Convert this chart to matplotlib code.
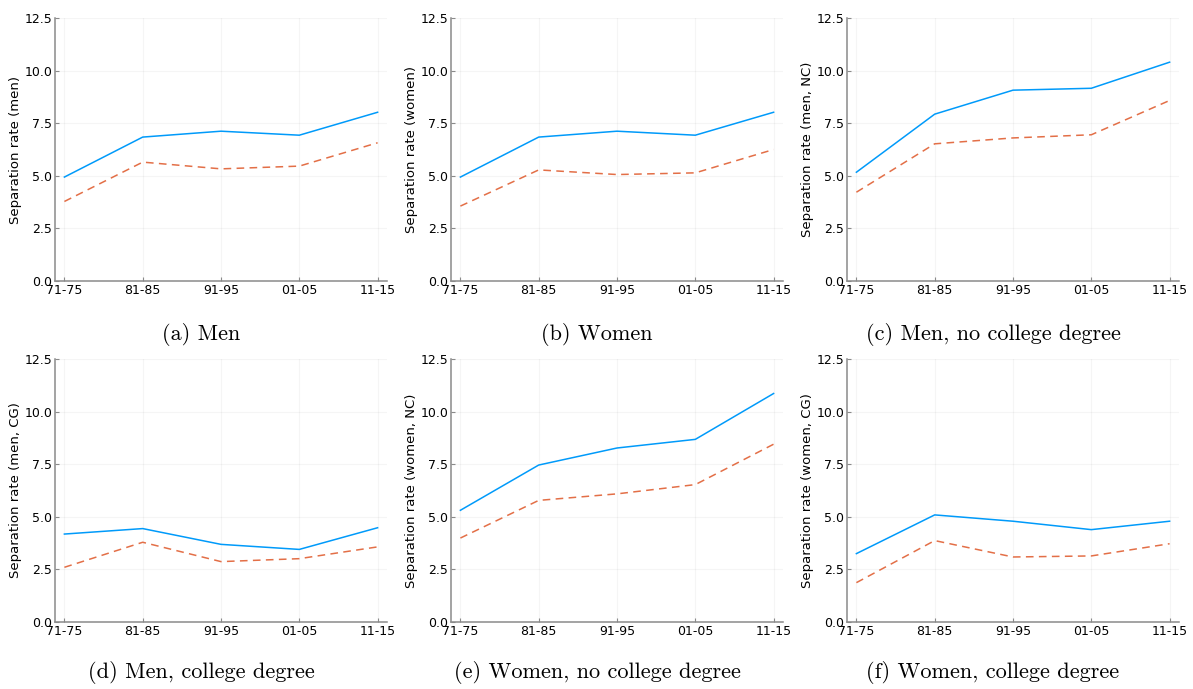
import numpy as np
import matplotlib
matplotlib.use("Agg")
import matplotlib.pyplot as plt

# periods on the x axis
periods = ["71-75", "81-85", "91-95", "01-05", "11-15"]

# separation rates per group: solid (blue) and dashed (red) series
men_solid = [4.94, 6.84, 7.12, 6.93, 8.02]
men_dashed = [3.78, 5.65, 5.33, 5.46, 6.57]
women_solid = [4.94, 6.84, 7.12, 6.93, 8.02]
women_dashed = [3.56, 5.28, 5.06, 5.14, 6.25]
men_nc_solid = [5.17, 7.93, 9.07, 9.16, 10.40]
men_nc_dashed = [4.22, 6.52, 6.80, 6.95, 8.58]
men_cg_solid = [4.18, 4.44, 3.69, 3.45, 4.48]
men_cg_dashed = [2.60, 3.79, 2.87, 3.01, 3.57]
women_nc_solid = [5.31, 7.46, 8.27, 8.68, 10.86]
women_nc_dashed = [3.99, 5.78, 6.09, 6.53, 8.45]
women_cg_solid = [3.25, 5.09, 4.79, 4.39, 4.79]
women_cg_dashed = [1.87, 3.87, 3.09, 3.14, 3.72]

ylabels = ["Separation rate (men)", "Separation rate (women)", "Separation rate (men, NC)",
           "Separation rate (men, CG)", "Separation rate (women, NC)", "Separation rate (women, CG)"]
captions = ["(a) Men", "(b) Women", "(c) Men, no college degree",
            "(d) Men, college degree", "(e) Women, no college degree", "(f) Women, college degree"]

panels = [(men_solid, men_dashed), (women_solid, women_dashed), (men_nc_solid, men_nc_dashed),
          (men_cg_solid, men_cg_dashed), (women_nc_solid, women_nc_dashed),
          (women_cg_solid, women_cg_dashed)]

BLUE = "#009AFA"
RED = "#E36F47"

fig = plt.figure(figsize=(11.93, 6.89), dpi=100)

W, H = 1193, 689
lefts = [55, 451, 847]
tops = [18, 359]
aw, ah = 332, 263
cap_y = [334, 673]

x = np.arange(len(periods))
for i, (solid, dashed) in enumerate(panels):
    r, c = divmod(i, 3)
    ax = fig.add_axes([lefts[c] / W, 1 - (tops[r] + ah) / H, aw / W, ah / H])
    ax.plot(x, solid, color=BLUE, lw=1.1)
    ax.plot(x, dashed, color=RED, lw=1.1, ls=(0, (5, 3.5)))
    ax.set_xlim(-0.12, 4.12)
    ax.set_ylim(0, 12.5)
    ax.set_xticks(x)
    ax.set_xticklabels(periods)
    ax.set_yticks([0, 2.5, 5, 7.5, 10, 12.5])
    ax.set_yticklabels(["0.0", "2.5", "5.0", "7.5", "10.0", "12.5"])
    ax.set_ylabel(ylabels[i], fontsize=9.5, labelpad=2)
    ax.grid(True, color="#000000", alpha=0.04, lw=0.8)
    for s in ("top", "right"):
        ax.spines[s].set_visible(False)
    for s in ("left", "bottom"):
        ax.spines[s].set_color("#8a8a8a")
        ax.spines[s].set_linewidth(1.1)
    ax.tick_params(direction="in", length=3, width=0.8, color="#8a8a8a",
                   labelsize=9, pad=2)
    cx = (lefts[c] + aw / 2 - 20) / W
    fig.text(cx, 1 - cap_y[r] / H, captions[i], fontsize=16, family="cmr10",
             ha="center", va="center")

fig.savefig("out.png", dpi=100)
